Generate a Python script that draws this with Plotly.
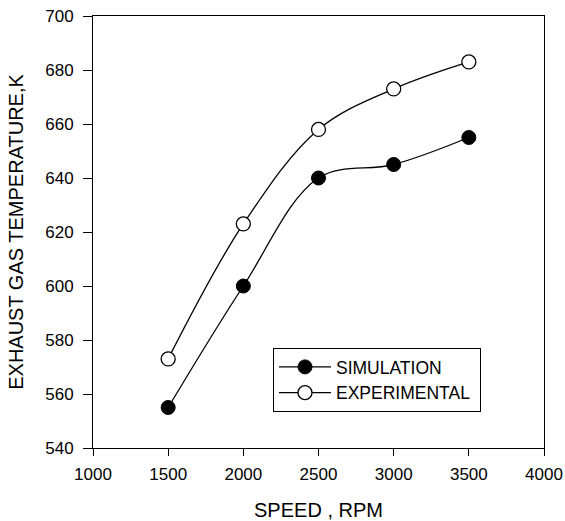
import plotly.graph_objects as go

speed = [1500, 2000, 2500, 3000, 3500]
simulation = [555, 600, 640, 645, 655]
experimental = [573, 623, 658, 673, 683]

fig = go.Figure()
fig.add_trace(go.Scatter(x=speed, y=simulation, name="SIMULATION", mode="lines+markers",
                         line=dict(color="black", width=1.3, shape="spline", smoothing=1.0),
                         marker=dict(symbol="circle", size=14, color="black",
                                     line=dict(color="black", width=1))))
fig.add_trace(go.Scatter(x=speed, y=experimental, name="EXPERIMENTAL\u00a0", mode="lines+markers",
                         line=dict(color="black", width=1.3, shape="spline", smoothing=1.0),
                         marker=dict(symbol="circle", size=14, color="white",
                                     line=dict(color="black", width=1.3))))

fig.update_layout(
    width=565, height=521,
    margin=dict(l=93, r=21, t=16, b=73, autoexpand=False),
    paper_bgcolor="white", plot_bgcolor="white",
    font=dict(family="Liberation Sans, Arial", size=17, color="black"),
    showlegend=True,
    legend=dict(x=(273 - 93) / 451, y=(448 - 348) / 432, xanchor="left", yanchor="top",
                bordercolor="black", borderwidth=1, bgcolor="white",
                font=dict(size=17.5), tracegroupgap=0, itemwidth=52),
    xaxis=dict(range=[1000, 4000], tickvals=[1000, 1500, 2000, 2500, 3000, 3500, 4000],
               ticks="outside", ticklen=7, tickcolor="black", showline=True,
               linecolor="black", linewidth=1, mirror=True, showgrid=False, zeroline=False,
               ticklabelstandoff=4, automargin=False,
               title=dict(text="SPEED , RPM", font=dict(size=20), standoff=22)),
    yaxis=dict(range=[540, 700], tickvals=[540, 560, 580, 600, 620, 640, 660, 680, 700],
               ticks="outside", ticklen=9, tickcolor="black", showline=True,
               linecolor="black", linewidth=1, mirror=True, showgrid=False, zeroline=False,
               ticklabelstandoff=6, automargin=False,
               title=dict(text="EXHAUST GAS TEMPERATURE,K", font=dict(size=20), standoff=16)),
)

fig.write_html("out.html")
